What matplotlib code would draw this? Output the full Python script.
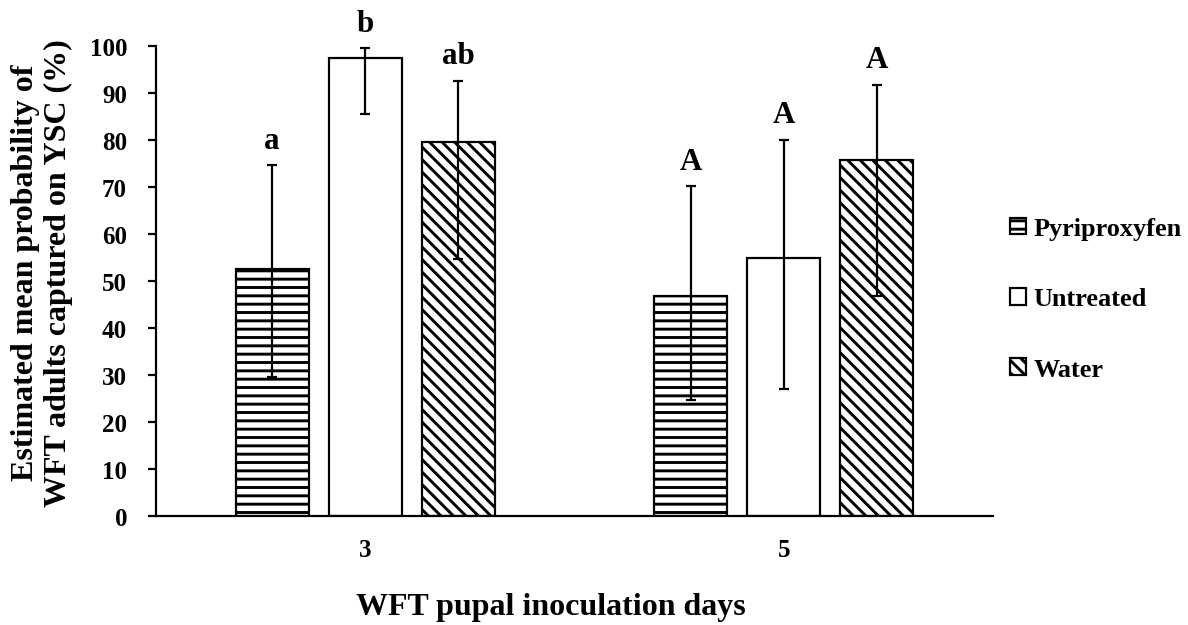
import matplotlib
matplotlib.use("Agg")
import matplotlib.pyplot as plt
import numpy as np

# ---- data ----
days = ["3", "5"]
treatments = ["Pyriproxyfen", "Untreated", "Water"]
means = {
    "Pyriproxyfen": [52.6, 46.8],
    "Untreated": [97.3, 54.9],
    "Water": [79.5, 75.8],
}
upper = {
    "Pyriproxyfen": [74.6, 70.1],
    "Untreated": [99.5, 80.0],
    "Water": [92.5, 91.7],
}
lower = {
    "Pyriproxyfen": [29.6, 24.8],
    "Untreated": [85.4, 27.0],
    "Water": [54.6, 46.8],
}
letters = {
    "Pyriproxyfen": ["a", "A"],
    "Untreated": ["b", "A"],
    "Water": ["ab", "A"],
}
yticks = [0, 10, 20, 30, 40, 50, 60, 70, 80, 90, 100]

DPI = 150
W, H = 1188, 626
def pt(px):
    return px * 72.0 / DPI

plt.rcParams["font.family"] = ["Liberation Serif", "DejaVu Serif"]
plt.rcParams["font.weight"] = "bold"
plt.rcParams["hatch.linewidth"] = 1.4
plt.rcParams["hatch.color"] = "black"

fig = plt.figure(figsize=(W / DPI, H / DPI), dpi=DPI)
ax = fig.add_axes([156 / W, 1 - 517.3 / H, (993 - 156) / W, (517.3 - 46.7) / H])

hatches = {"Pyriproxyfen": "---", "Untreated": "", "Water": "\\\\\\\\"}
offsets = {"Pyriproxyfen": -0.2225, "Untreated": 0.0, "Water": 0.2225}
width = 0.175
x = np.arange(len(days))

lw = pt(2.2)
for t in treatments:
    m = np.array(means[t])
    up = np.array(upper[t]) - m
    lo = m - np.array(lower[t])
    xs = x + offsets[t]
    ax.bar(xs, m, width, facecolor="white", edgecolor="black", linewidth=lw,
           hatch=hatches[t], label=t, zorder=2)
    ax.errorbar(xs, m, yerr=[lo, up], fmt="none", ecolor="black",
                elinewidth=lw, capsize=pt(5), capthick=lw, zorder=3)
    for xi, top, lab in zip(xs, upper[t], letters[t]):
        ax.annotate(lab, (xi, top), xytext=(0, pt(17.5)), textcoords="offset points",
                    ha="center", va="baseline", fontsize=pt(31), fontweight="bold")

ax.set_xlim(-0.5, 1.5)
ax.set_ylim(0, 100)
ax.set_yticks(yticks)
ax.set_xticks(x)
ax.set_xticklabels(days)
for s in ["top", "right"]:
    ax.spines[s].set_visible(False)
for s in ["left", "bottom"]:
    ax.spines[s].set_linewidth(lw)
ax.tick_params(axis="y", length=pt(8), width=lw, pad=pt(21), labelsize=pt(25))
ax.tick_params(axis="x", length=0, pad=pt(22), labelsize=pt(25))

fig.text(551 / W, 1 - 615 / H, "WFT pupal inoculation days", fontsize=pt(32),
         fontweight="bold", ha="center", va="baseline")
fig.text(42 / W, 1 - 273 / H, "Estimated mean probability of\nWFT adults captured on YSC (%)",
         fontsize=pt(32), fontweight="bold", rotation=90, ha="center", va="center",
         linespacing=1.15, multialignment="center")

leg = fig.legend(loc="center left", bbox_to_anchor=(1010 / W, 1 - 300 / H),
                 frameon=False, handlelength=0.6, handleheight=0.6,
                 handletextpad=0.3, labelspacing=1.8, borderpad=0, borderaxespad=0,
                 prop={"weight": "bold", "size": pt(26.3)})

fig.savefig("out.png", dpi=DPI)
